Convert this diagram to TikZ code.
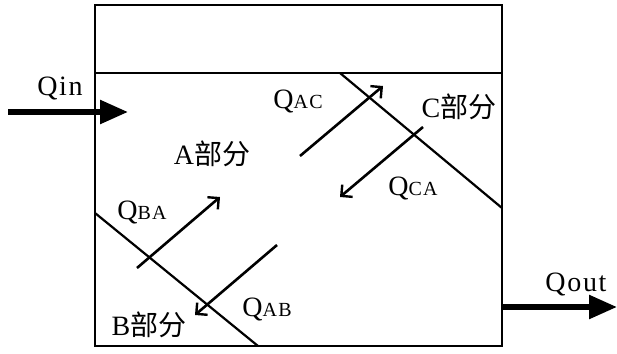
\documentclass[tikz,border=0pt]{standalone}
\usepackage{fontspec}
\setmainfont[LetterSpace=6]{Liberation Serif}
\newfontfamily\cjk{Noto Sans CJK SC}
\usetikzlibrary{arrows.meta}
\newcommand{\sub}[1]{{\fontsize{20}{20}\selectfont #1}}
\tikzset{
  lbl/.style={inner sep=0pt, font=\fontsize{28}{28}\selectfont},
  frame/.style={line width=1.8pt},
  wall/.style={line width=2.2pt},
  flow/.style={line width=2.6pt, -{Straight Barb[length=8pt,width=16pt,line width=2.4pt]}},
  bigflow/.style={line width=5.5pt, -{Triangle[length=28pt,width=23pt]}}
}
\begin{document}
\begin{tikzpicture}[x=1pt,y=-1pt]
\useasboundingbox (0,0) rectangle (617,353);
% frame
\coordinate (tl) at (95,5);
\coordinate (br) at (502,346);
\draw[frame] (tl) rectangle (br);
\coordinate (ml) at (95,73);
\coordinate (mr) at (502,73);
\draw[frame] (ml) -- (mr);
% partition walls
\coordinate (c1) at (340,73);
\coordinate (c2) at (502,208);
\draw[wall] (c1) -- (c2);
\coordinate (b1) at (95,213);
\coordinate (b2) at (258,346);
\draw[wall] (b1) -- (b2);
% in / out
\coordinate (qin0) at (8,112);
\coordinate (qin1) at (128,112);
\draw[bigflow] (qin0) -- (qin1);
\coordinate (qout0) at (502,307);
\coordinate (qout1) at (617,307);
\draw[bigflow] (qout0) -- (qout1);
% exchange arrows
\coordinate (ac0) at (300,156);
\coordinate (ac1) at (383,86);
\draw[flow] (ac0) -- (ac1);
\coordinate (ca0) at (423,127);
\coordinate (ca1) at (340,197);
\draw[flow] (ca0) -- (ca1);
\coordinate (ba0) at (137,268);
\coordinate (ba1) at (220,197);
\draw[flow] (ba0) -- (ba1);
\coordinate (ab0) at (277,245);
\coordinate (ab1) at (195,315);
\draw[flow] (ab0) -- (ab1);
% labels
\node[lbl] (tqin) at (60,88) {Qin};
\node[lbl] (tqout) at (576,284) {Qout};
\node[lbl] (tqac) at (298,101) {Q\sub{AC}};
\node[lbl] (tqca) at (413,188) {Q\sub{CA}};
\node[lbl] (tqba) at (142,212) {Q\sub{BA}};
\node[lbl] (tqab) at (267,309) {Q\sub{AB}};
\node[lbl] (ta) at (212,154) {A{\cjk 部分}};
\node[lbl] (tc) at (459,107) {C{\cjk 部分}};
\node[lbl] (tb) at (149,325) {B{\cjk 部分}};
\end{tikzpicture}
\end{document}
